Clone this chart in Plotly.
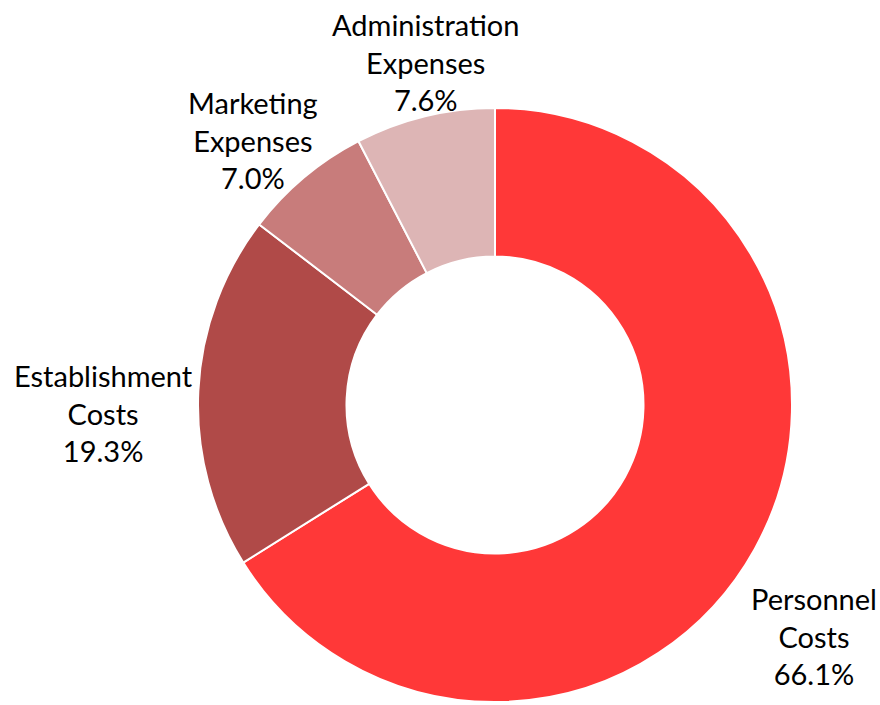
import plotly.graph_objects as go

# slice data (clockwise from 12 o'clock)
names = ["Personnel<br>Costs", "Establishment<br>Costs", "Marketing<br>Expenses", "Administration<br>Expenses"]
shares = [66.1, 19.3, 7.0, 7.6]
colors = ["#FF3838", "#B04A48", "#C87C7B", "#DDB5B5"]

W, H = 880, 705
cx, cy, r = 495, 405, 297  # pixel centre/radius of donut

fig = go.Figure(go.Pie(
    labels=names, values=shares, sort=False, direction="clockwise", rotation=0,
    hole=0.5,
    marker=dict(colors=colors, line=dict(color="white", width=2)),
    textinfo="none",
    domain=dict(x=[(cx - r) / W, (cx + r) / W], y=[(H - cy - r) / H, (H - cy + r) / H]),
    showlegend=False, hoverinfo="label+percent",
))

# label centres in pixels (layout only)
label_pos = [(814, 636), (103, 413), (253, 140), (426, 62)]
for name, val, (px, py) in zip(names, shares, label_pos):
    fig.add_annotation(x=px / W, y=1 - py / H, xref="paper", yref="paper",
                       text=f"{name}<br>{val:.1f}%", showarrow=False,
                       xanchor="center", yanchor="middle", align="center",
                       font=dict(family="Lato", size=29, color="black"))

fig.update_layout(width=W, height=H, margin=dict(l=0, r=0, t=0, b=0),
                  paper_bgcolor="white", plot_bgcolor="white")

fig.write_html("out.html", config={"displayModeBar": False},
               post_script="document.body.style.margin='0';document.body.style.overflow='hidden';")
